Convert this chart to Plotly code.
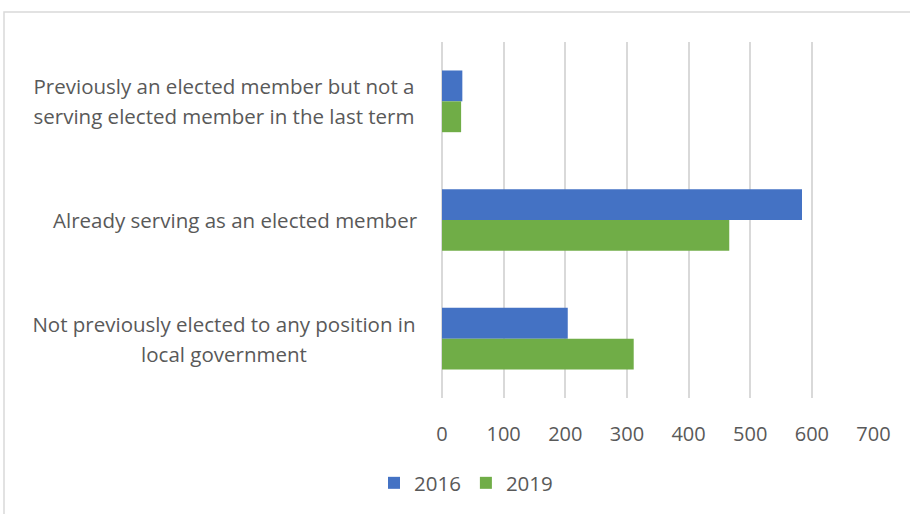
import plotly.graph_objects as go

# Candidate background, top to bottom
categories = [
    "Previously an elected member but not a<br>serving elected member in the last term",
    "Already serving as an elected member",
    "Not previously elected to any position in<br>local government",
]
values_2016 = [33, 584, 204]
values_2019 = [31, 466, 311]
x_ticks = [0, 100, 200, 300, 400, 500, 600, 700]

BLUE = "#4472C4"
GREEN = "#70AD47"
TEXT = "#595959"
GRID = "#D9D9D9"
FONT = "Open Sans"
LABEL_SIZE = 20.5
TICK_SIZE = 20
LINE_GAP = 30
LABEL_BOX = 400

W, H = 910, 514
L, R, T, B = 442, 36, 42, 115
pw, ph = W - L - R, H - T - B

fig = go.Figure()
fig.add_trace(go.Bar(y=categories, x=values_2016, name="2016", orientation="h",
                     marker=dict(color=BLUE, line=dict(width=0))))
fig.add_trace(go.Bar(y=categories, x=values_2019, name="2019", orientation="h",
                     marker=dict(color=GREEN, line=dict(width=0))))

# Category labels: wrapped labels are centred in a fixed-width box,
# single-line labels sit right against the axis
for c in categories:
    lines = c.split("<br>")
    n = len(lines)
    for i, line in enumerate(lines):
        if n > 1:
            kw = dict(width=LABEL_BOX, align="center", xshift=-16)
        else:
            kw = dict(align="right", xshift=-22)
        fig.add_annotation(x=0, xref="paper", y=c, yref="y", text=line, showarrow=False,
                           xanchor="right", yanchor="middle",
                           yshift=((n - 1) / 2 - i) * LINE_GAP,
                           font=dict(family=FONT, size=LABEL_SIZE, color=TEXT), **kw)

# Chart border
def px_x(p):
    return (p - L) / pw

def px_y(p):
    return (H - B - p) / ph

fig.add_shape(type="rect", xref="paper", yref="paper",
              x0=px_x(4), x1=px_x(W + 10), y0=px_y(H + 10), y1=px_y(12),
              line=dict(color=GRID, width=1.5), fillcolor="rgba(0,0,0,0)", layer="below")

fig.update_layout(
    width=W, height=H,
    margin=dict(l=L, r=R, t=T, b=B),
    paper_bgcolor="white", plot_bgcolor="white",
    barmode="group", bargap=0.48, bargroupgap=0,
    font=dict(family=FONT, size=TICK_SIZE, color=TEXT),
    showlegend=True,
    legend=dict(orientation="h", x=px_x(466), xanchor="center", y=px_y(483), yanchor="middle",
                font=dict(family=FONT, size=LABEL_SIZE, color=TEXT), itemwidth=30,
                bgcolor="rgba(0,0,0,0)"),
    xaxis=dict(range=[0, 700.8], tickvals=x_ticks, showgrid=True, gridcolor=GRID, gridwidth=1.5,
               zeroline=True, zerolinecolor=GRID, zerolinewidth=1.5, showline=False,
               ticks="", ticklabelstandoff=22, tickfont=dict(family=FONT, size=TICK_SIZE, color=TEXT),
               fixedrange=True),
    yaxis=dict(autorange="reversed", showticklabels=False, showgrid=False, zeroline=False,
               showline=False, ticks="", fixedrange=True),
)

fig.write_html("out.html")
